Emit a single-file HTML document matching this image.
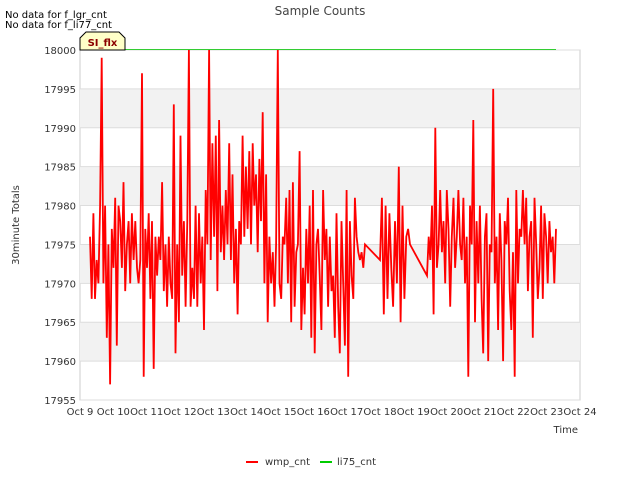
<!DOCTYPE html>
<html><head><meta charset="utf-8"><style>
body{margin:0;background:#fff;font-family:"DejaVu Sans",sans-serif;}
svg text{font-family:"DejaVu Sans",sans-serif;}
</style></head><body>
<svg id="c" width="640" height="480">
<text x="320" y="15" text-anchor="middle" font-size="12" fill="#444">Sample Counts</text>
<text x="5" y="18" font-size="10" fill="#000">No data for f_lgr_cnt</text>
<text x="5" y="28" font-size="10" fill="#000">No data for f_li77_cnt</text>
<text transform="translate(19,225) rotate(-90)" text-anchor="middle" font-size="10" fill="#333">30minute Totals</text>
<text x="578" y="433" text-anchor="end" font-size="10" fill="#333">Time</text>
<g id="grid"></g>
<g id="series"></g>
<g id="ticks"></g>
<g>
<path d="M80,50 L80,38 L86,32 L119,32 L125,38 L125,50 Z" fill="#ffffc8" stroke="#000" stroke-width="1"/>
<text x="102.5" y="46" text-anchor="middle" font-size="10" font-weight="bold" fill="#8b0000">SI_flx</text>
</g>
<g>
<line x1="246" y1="462" x2="258" y2="462" stroke="#f00" stroke-width="2"/>
<text x="265" y="465" font-size="10" fill="#333">wmp_cnt</text>
<line x1="320" y1="462" x2="332" y2="462" stroke="#0c0" stroke-width="2"/>
<text x="337" y="465" font-size="10" fill="#333">li75_cnt</text>
</g>
</svg>
<script>
const xTickLabels=["Oct 9","Oct 10","Oct 11","Oct 12","Oct 13","Oct 14","Oct 15","Oct 16","Oct 17","Oct 18","Oct 19","Oct 20","Oct 21","Oct 22","Oct 23","Oct 24"];
const yTicks=[17955,17960,17965,17970,17975,17980,17985,17990,17995,18000];
const segAStart=0.3, segAEnd=8.55;
const segA=[17976,17968,17979,17968,17973,17970,17980,17999,17970,17980,
17963,17975,17957,17977,17972,17981,17962,17980,17978,17972,
17983,17969,17975,17978,17970,17979,17973,17978,17972,17970,
17973,17997,17958,17977,17972,17979,17968,17978,17959,17976,
17971,17976,17973,17983,17969,17975,17967,17976,17970,17968,
17993,17961,17975,17965,17989,17971,17978,17967,17978,18000,
17967,17972,17968,17980,17967,17979,17970,17976,17964,17982,
17975,18000,17973,17988,17976,17989,17969,17991,17974,17980,
17973,17982,17975,17988,17973,17984,17970,17977,17966,17978,
17975,17989,17976,17985,17977,17987,17975,17988,17980,17984,
17974,17986,17978,17992,17970,17984,17965,17976,17970,17974,
17967,17975,18000,17970,17968,17976,17975,17981,17970,17982,
17965,17983,17967,17974,17975,17987,17964,17972,17966,17977,
17970,17980,17963,17982,17961,17975,17977,17971,17964,17982,
17973,17977,17967,17976,17969,17971,17963,17979,17967,17961,
17978,17970,17962,17982,17958,17978,17971,17968,17981,17976,
17974,17973,17974,17972,17975];
const segBStart=9.0, segBEnd=9.9;
const segB=[17973,17981,17966,17980,17968,17979,17972,17967,17978,17970,17985,17965,17980,17968,17976,17977,17975];
const segCStart=10.41, segCEnd=14.28;
const segC=[17971,17976,17973,17980,17966,17990,17972,17975,17982,17974,17978,17970,17982,17977,17967,17976,17981,17972,17976,17982,17975,17973,17981,17970,17976,17958,17980,17975,17991,17965,17978,17970,17980,17968,17961,17976,17979,17960,17975,17974,17995,17970,17976,17964,17979,17973,17960,17978,17975,17981,17969,17964,17974,17958,17982,17970,17977,17976,17982,17975,17981,17969,17976,17978,17963,17981,17975,17968,17972,17980,17968,17979,17976,17970,17978,17974,17976,17970,17977];
const li75Days=[0,14.28];
const li75Vals=[18000,18000];

const NS="http://www.w3.org/2000/svg";
const L=80,R=580,T=50,B=400,yMin=17955,yMax=18000,dMax=15;
const xs=d=>L+(R-L)*d/dMax;
const ys=v=>B-(B-T)*(v-yMin)/(yMax-yMin);
function mk(tag,attrs,parent){const e=document.createElementNS(NS,tag);for(const k in attrs)e.setAttribute(k,attrs[k]);parent.appendChild(e);return e;}
const grid=document.getElementById('grid'),ticks=document.getElementById('ticks'),series=document.getElementById('series');
const bg=mk('rect',{x:L,y:T,width:R-L,height:B-T,fill:'#fff',stroke:'#ccc'},grid);


for(let i=0;i<yTicks.length-1;i++){
  if(i%2===1){
    const b=mk('rect',{x:L,y:ys(yTicks[i+1]),width:R-L,height:ys(yTicks[i])-ys(yTicks[i+1]),fill:'#f2f2f2'},grid);
    
    
  }
}
yTicks.forEach(v=>{
  const g=mk('line',{x1:L,x2:R,y1:ys(v),y2:ys(v),stroke:'#ddd'},grid);
  
  
  const t=mk('text',{x:L-4,y:ys(v)+4,'text-anchor':'end','font-size':10,fill:'#333'},ticks);
  t.textContent=v;
  
  
});
xTickLabels.forEach((s,i)=>{
  const t=mk('text',{x:xs(i),y:B+15,'text-anchor':'middle','font-size':10,fill:'#333'},ticks);
  t.textContent=s;
  
  
});
let pts=[];
function addSeg(s,e,arr){arr.forEach((v,i)=>{const d=s+(e-s)*i/(arr.length-1);pts.push(xs(d).toFixed(1)+','+ys(v).toFixed(1));});}
addSeg(segAStart,segAEnd,segA);addSeg(segBStart,segBEnd,segB);addSeg(segCStart,segCEnd,segC);
const ln=mk('polyline',{points:pts.join(' '),fill:'none',stroke:'#f00','stroke-width':1.8},series);


const gl=mk('polyline',{points:li75Days.map((d,i)=>xs(d)+','+(ys(li75Vals[i])-0.5)).join(' '),fill:'none',stroke:'#3c3','stroke-width':1},series);


</script>
</body></html>
